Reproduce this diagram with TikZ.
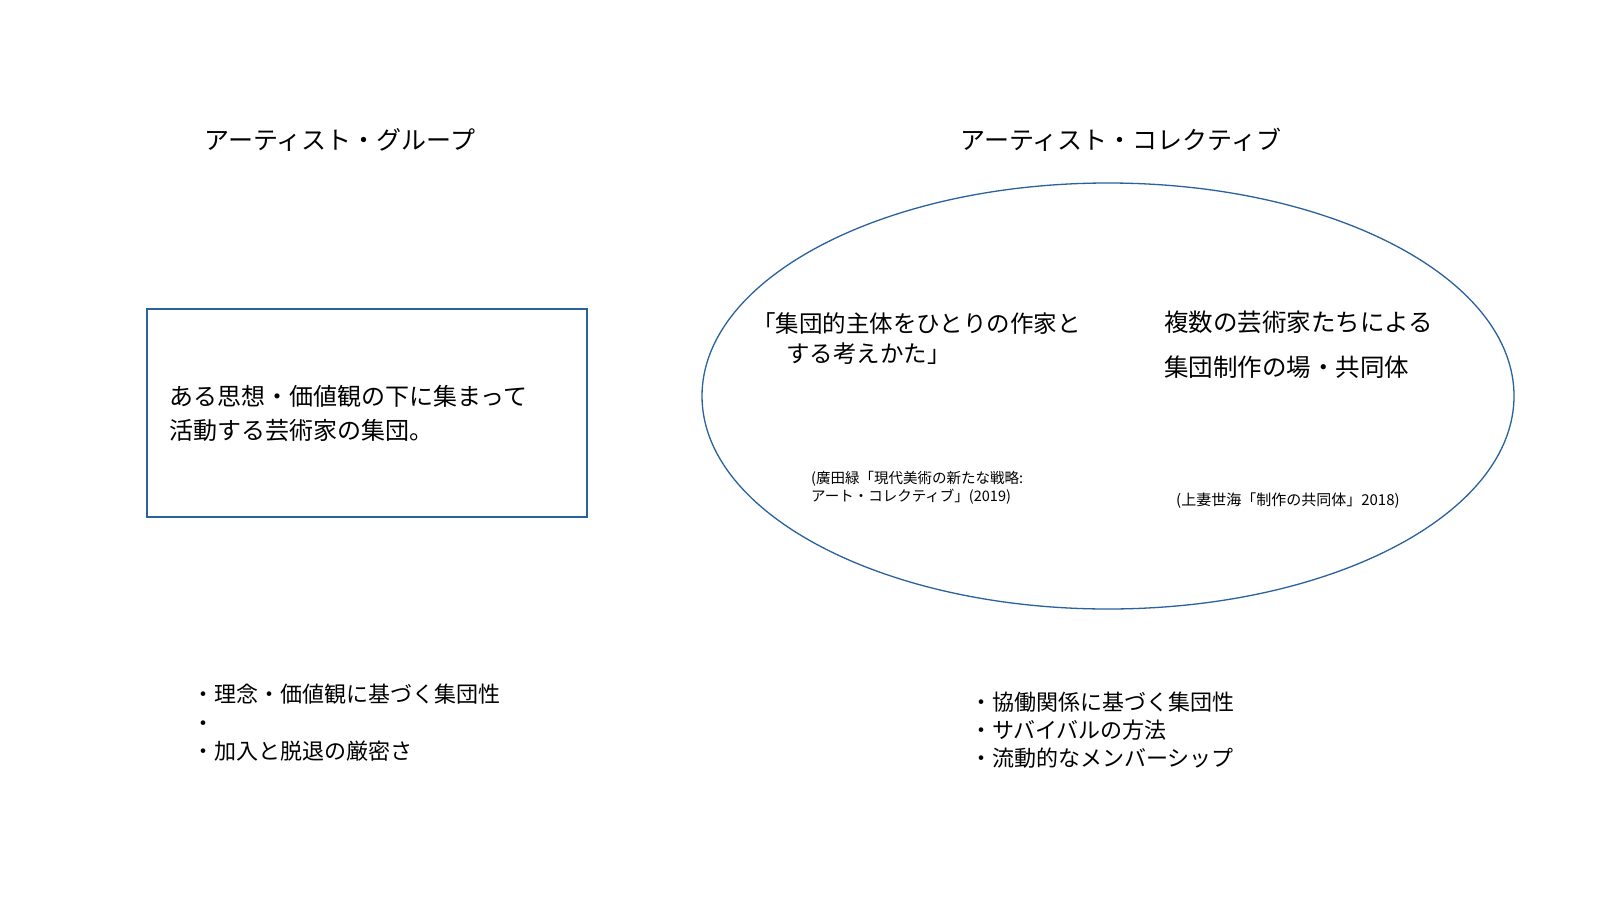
\documentclass[tikz,border=0pt]{standalone}
\usepackage{fontspec}
\setmainfont{Noto Sans CJK JP}
\usepackage{tikz}
\usetikzlibrary{positioning}

\definecolor{frameblue}{RGB}{41,98,157}

\begin{document}
\begin{tikzpicture}[x=1pt,y=-1pt,
    frame/.style={draw=frameblue, line width=1.3pt},
    title/.style={font=\fontsize{25}{30}\selectfont},
    body/.style={font=\fontsize{24}{34}\selectfont, align=left, inner sep=0pt},
    cite/.style={font=\fontsize{14.5}{18}\selectfont, align=left, inner sep=0pt}]
    \useasboundingbox[fill=white] (0,0) rectangle (1600,900);

    % left side: group
    \node[title] (grouptitle) at (340, 140) {アーティスト・グループ};
    \draw[frame] (147, 309) rectangle (587, 517);
    \node[body, anchor=west] (groupdef) at (169, 413) {ある思想・価値観の下に集まって\\活動する芸術家の集団。};
    \node[body, font=\fontsize{22}{28.5}\selectfont, anchor=north west] (grouplist) at (192, 684)
        {・理念・価値観に基づく集団性\\・\\・加入と脱退の厳密さ};

    % right side: collective
    \node[title] (colltitle) at (1121, 140) {アーティスト・コレクティブ};
    \draw[frame] (1108, 396) ellipse (406 and 213);
    \node[body, font=\fontsize{23.5}{30}\selectfont, anchor=north west] (hirota) at (752, 312)
        {「集団的主体をひとりの作家と\\\hspace*{1.45em}する考えかた」};
    \node[body, font=\fontsize{24.5}{45}\selectfont, anchor=north west] (kozuma) at (1164, 311)
        {複数の芸術家たちによる\\集団制作の場・共同体};
    \node[cite, anchor=north west] (hirotacite) at (811, 471)
        {(廣田緑「現代美術の新たな戦略:\\アート・コレクティブ」(2019)};
    \node[cite, font=\fontsize{15}{18}\selectfont, anchor=north west] (kozumacite) at (1176, 493)
        {(上妻世海「制作の共同体」2018)};
    \node[body, font=\fontsize{22}{28}\selectfont, anchor=north west] (colllist) at (970, 692)
        {・協働関係に基づく集団性\\・サバイバルの方法\\・流動的なメンバーシップ};
\end{tikzpicture}
\end{document}
